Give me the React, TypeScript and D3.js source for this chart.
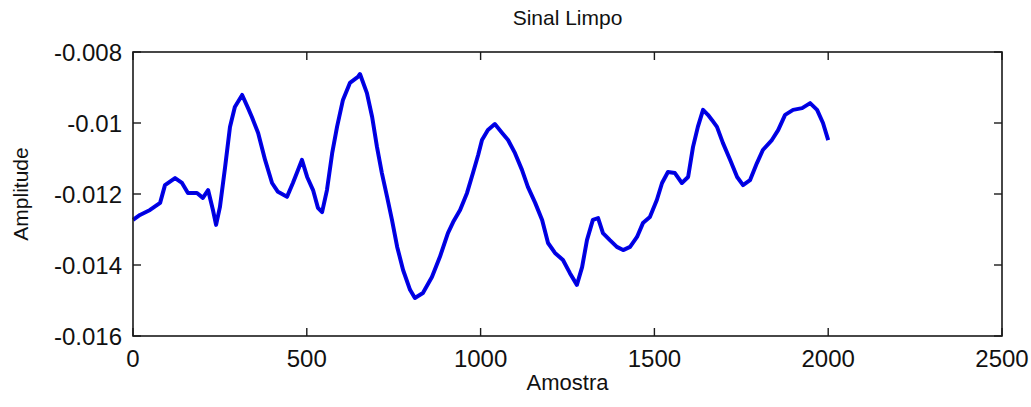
import React from "react";
import * as d3 from "d3";

const samples = [0, 20, 49, 78, 92, 121, 141, 158, 184, 201, 216, 230, 239, 250, 265, 279, 293, 314, 331, 342, 360, 380, 400, 417, 443, 460, 475, 486, 501, 518, 532, 544, 558, 573, 587, 604, 624, 647, 653, 673, 688, 702, 716, 731, 745, 760, 777, 797, 811, 834, 860, 883, 906, 921, 941, 961, 978, 993, 1004, 1021, 1041, 1062, 1079, 1099, 1119, 1136, 1157, 1177, 1194, 1214, 1237, 1257, 1277, 1292, 1306, 1323, 1338, 1352, 1372, 1392, 1410, 1430, 1450, 1467, 1487, 1507, 1522, 1539, 1559, 1579, 1597, 1611, 1625, 1640, 1654, 1666, 1680, 1697, 1718, 1738, 1755, 1775, 1795, 1812, 1838, 1856, 1876, 1899, 1925, 1948, 1968, 1985, 2000];

const amplitude = [-0.01273, -0.01259, -0.01245, -0.01225, -0.01175, -0.01155, -0.01169, -0.01197, -0.01197, -0.01211, -0.01189, -0.01245, -0.01287, -0.01237, -0.01124, -0.01011, -0.00955, -0.00921, -0.00958, -0.00983, -0.01028, -0.01104, -0.01169, -0.01194, -0.01208, -0.01169, -0.01132, -0.01104, -0.01152, -0.01189, -0.01239, -0.01251, -0.01189, -0.01085, -0.01011, -0.00935, -0.00887, -0.0087, -0.00862, -0.00916, -0.00983, -0.01068, -0.01141, -0.01208, -0.01273, -0.01349, -0.01414, -0.0147, -0.01493, -0.01479, -0.01434, -0.01377, -0.0131, -0.01279, -0.01245, -0.01197, -0.01141, -0.0109, -0.01048, -0.0102, -0.01003, -0.01028, -0.01048, -0.01085, -0.01132, -0.0118, -0.01225, -0.01273, -0.01338, -0.01366, -0.01386, -0.01423, -0.01456, -0.01406, -0.0133, -0.01273, -0.01268, -0.0131, -0.0133, -0.01349, -0.01358, -0.01349, -0.01321, -0.01282, -0.01265, -0.01217, -0.01169, -0.01138, -0.01141, -0.01169, -0.01152, -0.01068, -0.01011, -0.00963, -0.00977, -0.00992, -0.01011, -0.01056, -0.01104, -0.01152, -0.01175, -0.01161, -0.01113, -0.01076, -0.01048, -0.0102, -0.00977, -0.00963, -0.00958, -0.00944, -0.00963, -0.01, -0.01048];

const xTicks = [0, 500, 1000, 1500, 2000, 2500];
const yTicks = [-0.016, -0.014, -0.012, -0.01, -0.008];
const yTickLabels = ["-0.016", "-0.014", "-0.012", "-0.01", "-0.008"];

const title = "Sinal Limpo";
const xLabel = "Amostra";
const yLabel = "Amplitude";

const W = 1031;
const H = 407;
const left = 133;
const right = 1002;
const top = 52;
const bottom = 336;
const tickLen = 8;
const font = "'Liberation Sans', Arial, sans-serif";

export default function App() {
  const x = d3.scaleLinear().domain([0, 2500]).range([left, right]);
  const y = d3.scaleLinear().domain([-0.016, -0.008]).range([bottom, top]);
  const pts: [number, number][] = samples.map((s, i) => [s, amplitude[i]]);
  const line = d3
    .line<[number, number]>()
    .x((d) => x(d[0]))
    .y((d) => y(d[1]))
    .curve(d3.curveLinear);

  return (
    <svg
      width={W}
      height={H}
      style={{ position: "absolute", left: 0, top: 0, background: "#fff" }}
    >
      <rect x={0} y={0} width={W} height={H} fill="#fff" />
      <path
        d={line(pts) || ""}
        fill="none"
        stroke="#0000f0"
        strokeWidth={4}
        strokeLinejoin="round"
      />
      <path
        d={line(pts) || ""}
        fill="none"
        stroke="#00008a"
        strokeWidth={1}
        strokeLinejoin="round"
        opacity={0.5}
      />
      <rect
        x={left}
        y={top}
        width={right - left}
        height={bottom - top}
        fill="none"
        stroke="#1a1a1a"
        strokeWidth={1.6}
      />
      {xTicks.map((t) => (
        <g key={"x" + t}>
          <line x1={x(t)} x2={x(t)} y1={bottom} y2={bottom - tickLen} stroke="#1a1a1a" strokeWidth={1.4} />
          <line x1={x(t)} x2={x(t)} y1={top} y2={top + tickLen} stroke="#1a1a1a" strokeWidth={1.4} />
          <text
            x={x(t)}
            y={367}
            textAnchor="middle"
            fontFamily={font}
            fontSize={24}
            fill="#111"
          >
            {t}
          </text>
        </g>
      ))}
      {yTicks.map((t, i) => (
        <g key={"y" + t}>
          <line x1={left} x2={left + tickLen} y1={y(t)} y2={y(t)} stroke="#1a1a1a" strokeWidth={1.4} />
          <line x1={right} x2={right - tickLen} y1={y(t)} y2={y(t)} stroke="#1a1a1a" strokeWidth={1.4} />
          <text
            x={122}
            y={y(t) + 9}
            textAnchor="end"
            fontFamily={font}
            fontSize={24}
            fill="#111"
          >
            {yTickLabels[i]}
          </text>
        </g>
      ))}
      <text
        x={(left + right) / 2}
        y={25}
        textAnchor="middle"
        fontFamily={font}
        fontSize={21}
        fill="#111"
      >
        {title}
      </text>
      <text
        x={(left + right) / 2}
        y={390}
        textAnchor="middle"
        fontFamily={font}
        fontSize={22}
        fill="#111"
      >
        {xLabel}
      </text>
      <text
        transform={`translate(28, ${(top + bottom) / 2}) rotate(-90)`}
        textAnchor="middle"
        fontFamily={font}
        fontSize={21}
        fill="#111"
      >
        {yLabel}
      </text>
    </svg>
  );
}
